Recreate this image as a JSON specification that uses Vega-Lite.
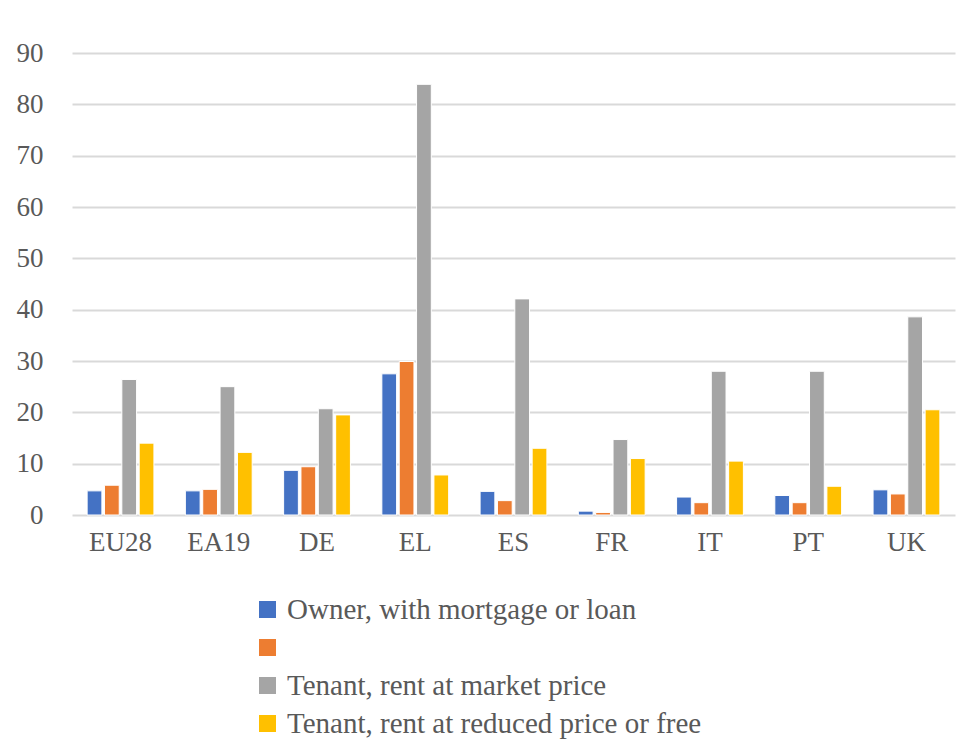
{
  "$schema": "https://vega.github.io/schema/vega-lite/v6.json",
  "autosize": "none",
  "width": 883,
  "height": 462,
  "padding": {"left": 72, "top": 53, "right": 21, "bottom": 240},
  "background": "white",
  "config": {
    "font": "Liberation Serif",
    "view": {"stroke": null},
    "axis": {"labelFont": "Liberation Serif", "labelColor": "#595959", "labelFontSize": 27},
    "legend": {"labelFont": "Liberation Serif"}
  },
  "data": {
    "values": [
      {"country": "EU28", "series": "Owner, with mortgage or loan", "value": 4.7},
      {"country": "EU28", "series": "", "value": 5.8},
      {"country": "EU28", "series": "Tenant, rent at market price", "value": 26.4},
      {"country": "EU28", "series": "Tenant, rent at reduced price or free", "value": 14.0},
      {"country": "EA19", "series": "Owner, with mortgage or loan", "value": 4.7},
      {"country": "EA19", "series": "", "value": 5.0},
      {"country": "EA19", "series": "Tenant, rent at market price", "value": 25.0},
      {"country": "EA19", "series": "Tenant, rent at reduced price or free", "value": 12.2},
      {"country": "DE", "series": "Owner, with mortgage or loan", "value": 8.7},
      {"country": "DE", "series": "", "value": 9.4},
      {"country": "DE", "series": "Tenant, rent at market price", "value": 20.7},
      {"country": "DE", "series": "Tenant, rent at reduced price or free", "value": 19.5},
      {"country": "EL", "series": "Owner, with mortgage or loan", "value": 27.5},
      {"country": "EL", "series": "", "value": 29.9},
      {"country": "EL", "series": "Tenant, rent at market price", "value": 83.9},
      {"country": "EL", "series": "Tenant, rent at reduced price or free", "value": 7.8},
      {"country": "ES", "series": "Owner, with mortgage or loan", "value": 4.6},
      {"country": "ES", "series": "", "value": 2.8},
      {"country": "ES", "series": "Tenant, rent at market price", "value": 42.1},
      {"country": "ES", "series": "Tenant, rent at reduced price or free", "value": 13.0},
      {"country": "FR", "series": "Owner, with mortgage or loan", "value": 0.75},
      {"country": "FR", "series": "", "value": 0.5},
      {"country": "FR", "series": "Tenant, rent at market price", "value": 14.7},
      {"country": "FR", "series": "Tenant, rent at reduced price or free", "value": 11.0},
      {"country": "IT", "series": "Owner, with mortgage or loan", "value": 3.5},
      {"country": "IT", "series": "", "value": 2.4},
      {"country": "IT", "series": "Tenant, rent at market price", "value": 28.0},
      {"country": "IT", "series": "Tenant, rent at reduced price or free", "value": 10.5},
      {"country": "PT", "series": "Owner, with mortgage or loan", "value": 3.8},
      {"country": "PT", "series": "", "value": 2.4},
      {"country": "PT", "series": "Tenant, rent at market price", "value": 28.0},
      {"country": "PT", "series": "Tenant, rent at reduced price or free", "value": 5.6},
      {"country": "UK", "series": "Owner, with mortgage or loan", "value": 4.9},
      {"country": "UK", "series": "", "value": 4.1},
      {"country": "UK", "series": "Tenant, rent at market price", "value": 38.6},
      {"country": "UK", "series": "Tenant, rent at reduced price or free", "value": 20.5}
    ]
  },
  "mark": {"type": "bar", "stroke": "white", "strokeWidth": 1},
  "encoding": {
    "x": {
      "field": "country",
      "type": "nominal",
      "sort": ["EU28", "EA19", "DE", "EL", "ES", "FR", "IT", "PT", "UK"],
      "scale": {"paddingInner": 0.32, "paddingOuter": 0.154},
      "axis": {"title": null, "labelAngle": 0, "domain": false, "ticks": false, "labelPadding": 14, "grid": false}
    },
    "xOffset": {
      "field": "series",
      "type": "nominal",
      "sort": ["Owner, with mortgage or loan", "", "Tenant, rent at market price", "Tenant, rent at reduced price or free"],
      "scale": {"paddingInner": 0.15}
    },
    "y": {
      "field": "value",
      "type": "quantitative",
      "scale": {"domain": [0, 90], "nice": false},
      "axis": {"title": null, "values": [0, 10, 20, 30, 40, 50, 60, 70, 80, 90], "domain": false, "ticks": false, "labelPadding": 29, "gridColor": "#d9d9d9", "gridWidth": 2}
    },
    "color": {
      "field": "series",
      "type": "nominal",
      "scale": {
        "domain": ["Owner, with mortgage or loan", "", "Tenant, rent at market price", "Tenant, rent at reduced price or free"],
        "range": ["#4472C4", "#ED7D31", "#A5A5A5", "#FFC000"]
      },
      "legend": {
        "title": null,
        "orient": "none",
        "legendX": 181,
        "legendY": 542,
        "direction": "vertical",
        "symbolType": "square",
        "symbolSize": 289,
        "symbolStrokeWidth": 0,
        "labelFontSize": 29,
        "labelColor": "#595959",
        "labelOffset": 5,
        "rowPadding": 8,
        "labelLimit": 700
      }
    }
  }
}
